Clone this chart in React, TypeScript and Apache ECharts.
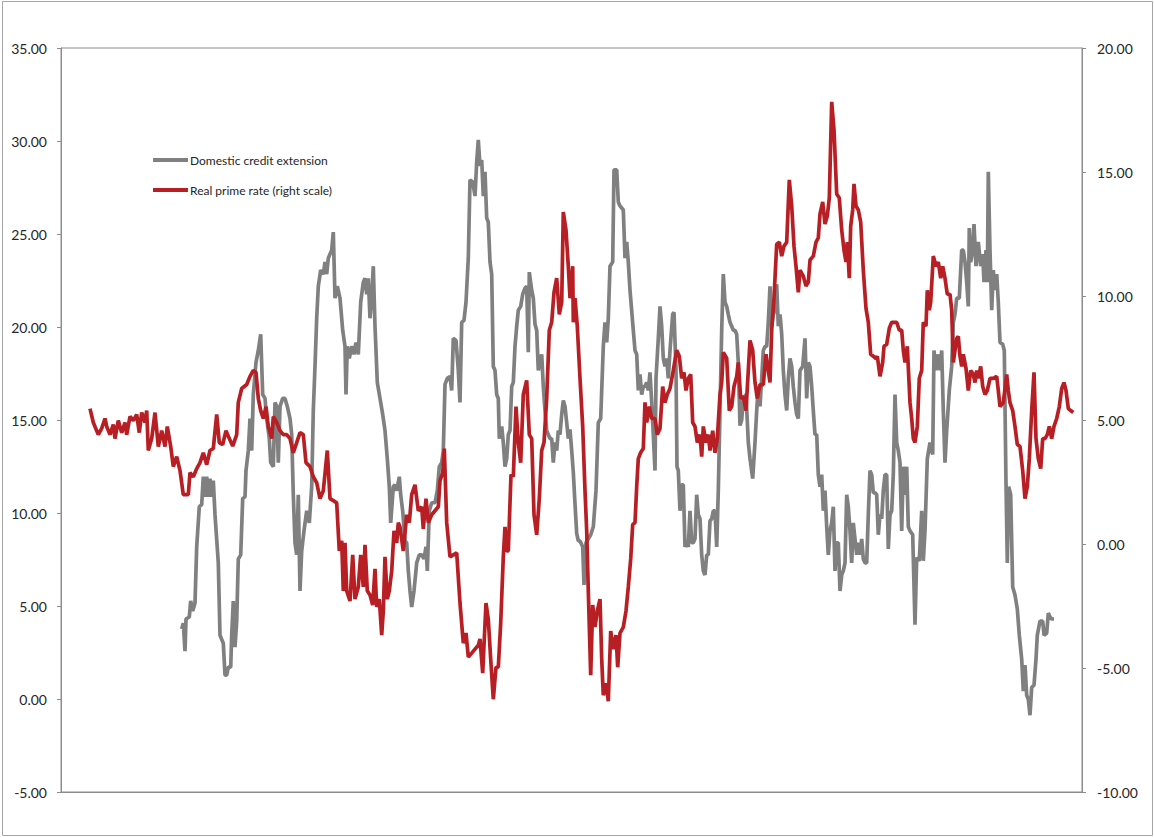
import React, { useEffect, useRef } from "react";
import * as echarts from "echarts";

// x values are decimal years (monthly-ish observations)
const creditExtension: [number, number][] = [
  [1968.035,3.76],[1968.115,4.08],[1968.2,2.57],[1968.25,4.30],[1968.415,4.41],[1968.485,5.27],[1968.585,4.73],[1968.7,5.16],[1968.785,8.18],[1968.915,10.34],
  [1969.035,10.45],[1969.115,11.95],[1969.2,10.87],[1969.285,11.95],[1969.365,10.87],[1969.45,11.85],[1969.535,10.87],[1969.615,11.74],[1969.7,9.91],[1969.865,7.32],
  [1969.95,3.43],[1970.115,3.0],[1970.2,1.28],[1970.285,1.28],[1970.365,1.71],[1970.485,1.71],[1970.535,3.43],[1970.615,5.27],[1970.7,2.79],[1970.785,4.2],
  [1970.865,7.53],[1970.985,7.75],[1971.085,10.77],[1971.2,10.87],[1971.25,12.28],[1971.365,13.35],[1971.45,15.08],[1971.535,13.35],[1971.615,16.37],[1971.75,18.10],
  [1971.865,18.74],[1971.985,19.61],[1972.085,16.37],[1972.2,16.16],[1972.285,15.08],[1972.415,14.0],[1972.485,12.71],[1972.615,12.49],[1972.7,15.94],[1972.785,15.73],
  [1972.865,12.71],[1972.95,15.73],[1973.085,16.16],[1973.2,16.16],[1973.315,15.73],[1973.45,15.08],[1973.535,14.22],[1973.615,10.98],[1973.7,8.40],[1973.785,7.75],
  [1973.865,10.98],[1973.95,5.81],[1974.035,7.96],[1974.15,9.04],[1974.285,10.12],[1974.415,9.47],[1974.535,11.41],[1974.615,15.51],[1974.7,17.88],[1974.785,20.47],
  [1974.865,22.19],[1974.985,23.06],[1975.115,22.84],[1975.2,23.49],[1975.285,22.84],[1975.365,23.70],[1975.45,23.92],[1975.535,24.13],[1975.615,25.10],[1975.7,21.55],
  [1975.815,22.19],[1975.95,21.55],[1976.085,19.82],[1976.2,18.96],[1976.25,16.37],[1976.315,18.96],[1976.415,18.31],[1976.535,18.96],[1976.65,18.53],[1976.75,19.17],
  [1976.865,18.53],[1976.985,21.33],[1977.115,22.41],[1977.2,22.62],[1977.285,21.76],[1977.365,22.62],[1977.45,20.47],[1977.535,21.55],[1977.615,23.27],[1977.7,20.04],
  [1977.815,17.02],[1977.95,16.16],[1978.085,15.30],[1978.2,14.43],[1978.315,12.92],[1978.415,11.41],[1978.485,9.47],[1978.615,11.41],[1978.7,11.52],[1978.785,11.20],
  [1978.915,11.95],[1978.985,10.98],[1979.085,10.1],[1979.2,8.5],[1979.285,8.40],[1979.365,6.89],[1979.45,5.81],[1979.535,4.95],[1979.65,5.81],[1979.785,7.32],
  [1979.915,7.75],[1980.035,7.75],[1980.15,7.53],[1980.25,8.18],[1980.315,6.89],[1980.415,10.12],[1980.535,10.55],[1980.7,10.55],[1980.815,11.20],[1980.915,12.49],
  [1981.035,12.71],[1981.115,13.35],[1981.2,16.91],[1981.315,17.24],[1981.45,17.34],[1981.535,16.59],[1981.615,19.39],[1981.75,19.28],[1981.865,17.67],[1981.95,15.94],
  [1982.035,20.25],[1982.15,20.36],[1982.25,21.33],[1982.365,23.70],[1982.45,27.91],[1982.585,27.80],[1982.7,27.04],[1982.785,28.88],[1982.865,30.06],[1982.95,28.66],
  [1983.035,28.98],[1983.115,27.04],[1983.2,28.34],[1983.285,25.86],[1983.365,25.64],[1983.45,23.49],[1983.535,22.84],[1983.615,17.88],[1983.7,17.67],[1983.785,16.37],
  [1983.865,16.16],[1983.915,14.0],[1984.035,14.65],[1984.115,13.79],[1984.2,12.49],[1984.285,12.92],[1984.365,14.22],[1984.45,14.43],[1984.535,16.80],[1984.615,17.02],
  [1984.7,18.96],[1984.785,20.04],[1984.865,20.90],[1984.985,21.11],[1985.085,21.76],[1985.2,22.09],[1985.285,22.19],[1985.365,18.64],[1985.415,22.95],[1985.535,21.98],
  [1985.615,21.55],[1985.7,20.15],[1985.785,19.82],[1985.865,17.67],[1985.95,18.10],[1986.035,18.53],[1986.115,16.80],[1986.2,15.51],[1986.285,14.43],[1986.365,14.22],
  [1986.45,14.0],[1986.535,14.0],[1986.615,12.71],[1986.7,13.79],[1986.785,13.35],[1986.865,14.43],[1986.95,14.22],[1987.035,15.30],[1987.115,16.05],[1987.2,15.73],
  [1987.285,14.86],[1987.365,14.0],[1987.45,14.5],[1987.535,13.35],[1987.615,12.2],[1987.7,10.5],[1987.785,8.9],[1987.865,8.50],[1987.95,8.50],[1988.085,8.18],
  [1988.15,6.13],[1988.25,8.40],[1988.365,8.61],[1988.485,8.83],[1988.615,9.26],[1988.75,11.20],[1988.865,14.86],[1988.985,15.08],[1989.115,18.96],[1989.2,20.25],
  [1989.285,19.17],[1989.365,20.47],[1989.45,23.27],[1989.585,23.49],[1989.65,28.45],[1989.785,28.45],[1989.865,26.72],[1989.95,26.51],[1990.115,26.29],[1990.2,23.70],
  [1990.285,24.57],[1990.365,23.49],[1990.45,21.98],[1990.615,19.82],[1990.7,18.74],[1990.785,18.53],[1990.865,16.59],[1990.95,17.45],[1991.035,16.37],[1991.115,16.80],
  [1991.2,16.80],[1991.285,17.02],[1991.365,16.59],[1991.45,17.56],[1991.535,15.94],[1991.615,14.22],[1991.7,12.28],[1991.75,17.24],[1991.865,19.39],[1991.95,21.11],
  [1992.035,20.04],[1992.115,18.31],[1992.2,17.88],[1992.285,18.31],[1992.365,17.24],[1992.45,18.74],[1992.585,20.68],[1992.65,20.79],[1992.75,17.67],[1992.8,12.49],
  [1992.865,12.28],[1992.95,10.12],[1993.035,11.52],[1993.115,11.52],[1993.2,8.18],[1993.285,8.40],[1993.365,8.18],[1993.45,10.12],[1993.535,8.40],[1993.615,8.40],
  [1993.7,8.61],[1993.785,10.98],[1993.865,9.91],[1993.95,9.69],[1994.035,7.75],[1994.115,6.89],[1994.2,6.67],[1994.285,7.75],[1994.365,7.75],[1994.45,9.58],
  [1994.535,9.69],[1994.615,10.12],[1994.7,10.12],[1994.785,8.18],[1994.865,11.20],[1994.95,15.51],[1995.035,19.82],[1995.115,22.84],[1995.2,21.33],[1995.285,21.11],
  [1995.365,20.68],[1995.45,20.25],[1995.535,20.04],[1995.615,19.82],[1995.7,19.82],[1995.785,19.61],[1995.865,18.10],[1995.95,14.7],[1996.035,15.0],[1996.115,16.16],
  [1996.25,16.37],[1996.365,13.79],[1996.45,12.92],[1996.585,11.85],[1996.7,13.79],[1996.785,15.51],[1996.865,16.80],[1996.95,15.73],[1997.035,17.24],[1997.115,18.74],
  [1997.2,18.96],[1997.285,18.96],[1997.365,20.25],[1997.45,22.19],[1997.535,20.04],[1997.615,20.68],[1997.7,20.90],[1997.785,22.30],[1997.865,20.04],[1997.95,20.68],
  [1998.035,19.61],[1998.115,17.67],[1998.2,16.37],[1998.285,15.51],[1998.365,17.24],[1998.45,18.31],[1998.535,17.88],[1998.615,16.80],[1998.7,15.94],[1998.785,15.30],
  [1998.865,15.08],[1998.95,17.67],[1999.085,17.88],[1999.2,19.39],[1999.285,16.16],[1999.365,18.10],[1999.45,17.88],[1999.535,16.80],[1999.615,15.51],[1999.7,14.22],
  [1999.785,14.22],[1999.865,12.06],[1999.95,11.41],[2000.035,12.06],[2000.115,10.12],[2000.2,11.20],[2000.285,9.26],[2000.365,7.75],[2000.45,9.04],[2000.535,9.47],
  [2000.615,10.34],[2000.7,6.89],[2000.785,8.40],[2000.865,8.40],[2000.95,5.81],[2001.035,6.67],[2001.115,6.89],[2001.2,7.32],[2001.285,10.98],[2001.365,10.34],
  [2001.45,9.04],[2001.535,7.32],[2001.615,9.47],[2001.7,8.61],[2001.785,7.75],[2001.865,8.40],[2001.95,7.75],[2002.035,8.61],[2002.115,7.53],[2002.2,7.32],
  [2002.285,7.32],[2002.365,9.91],[2002.45,12.28],[2002.535,12.06],[2002.615,11.09],[2002.7,11.09],[2002.785,10.98],[2002.865,8.83],[2002.95,9.91],[2003.035,9.69],
  [2003.115,11.20],[2003.2,12.06],[2003.285,12.06],[2003.365,8.07],[2003.45,9.91],[2003.535,10.12],[2003.615,12.06],[2003.7,16.37],[2003.785,13.79],[2003.865,13.35],
  [2003.95,12.71],[2004.035,9.04],[2004.115,12.49],[2004.2,10.98],[2004.285,12.49],[2004.365,9.26],[2004.45,9.04],[2004.585,8.83],[2004.7,4.0],[2004.785,7.6],
  [2004.915,7.43],[2005.035,10.12],[2005.115,7.43],[2005.2,9.04],[2005.315,12.92],[2005.45,13.79],[2005.585,13.14],[2005.65,18.74],[2005.75,17.67],[2005.865,18.53],
  [2005.95,17.67],[2006.035,18.74],[2006.115,15.51],[2006.2,12.71],[2006.285,14.43],[2006.415,16.59],[2006.535,17.88],[2006.615,20.25],[2006.7,20.68],[2006.785,21.55],
  [2006.915,21.55],[2007.035,24.13],[2007.115,24.13],[2007.2,23.49],[2007.285,22.41],[2007.365,21.11],[2007.415,25.32],[2007.485,23.49],[2007.585,24.13],[2007.65,25.53],
  [2007.75,23.27],[2007.865,24.57],[2007.985,23.27],[2008.085,23.92],[2008.15,22.41],[2008.25,24.13],[2008.315,22.41],[2008.365,28.34],[2008.45,24.13],[2008.535,20.90],
  [2008.615,23.06],[2008.7,21.98],[2008.785,22.84],[2008.865,21.33],[2008.95,19.17],[2009.085,19.07],[2009.165,18.74],[2009.25,11.63],[2009.315,7.32],[2009.385,11.41],
  [2009.485,10.98],[2009.585,6.02],[2009.7,5.59],[2009.815,4.84],[2009.915,3.43],[2010.035,2.14],[2010.115,0.42],[2010.2,1.82],[2010.285,0.20],[2010.365,-0.01],
  [2010.45,-0.87],[2010.535,0.63],[2010.65,0.74],[2010.75,2.14],[2010.815,3.43],[2010.95,4.19],[2011.085,4.19],[2011.15,3.43],[2011.285,3.54],[2011.365,4.62],
  [2011.45,4.41],[2011.535,4.30],[2011.65,4.30]
];

const realPrimeRate: [number, number][] = [
  [1963.45,5.46],[1963.615,4.90],[1963.865,4.41],[1964.035,4.66],[1964.2,5.06],[1964.285,4.74],[1964.45,4.41],[1964.615,4.82],[1964.7,4.25],[1964.865,4.98],
  [1965.035,4.49],[1965.2,4.90],[1965.285,4.41],[1965.45,5.14],[1965.615,4.98],[1965.785,5.22],[1965.915,4.49],[1966.035,5.30],[1966.2,4.90],[1966.285,5.38],
  [1966.365,3.77],[1966.535,4.25],[1966.7,5.30],[1966.865,3.93],[1967.035,4.57],[1967.2,3.93],[1967.315,4.74],[1967.485,3.93],[1967.615,3.12],[1967.785,3.52],
  [1967.95,2.96],[1968.115,1.99],[1968.365,1.99],[1968.45,2.88],[1968.615,2.71],[1968.785,3.04],[1968.95,3.28],[1969.115,3.68],[1969.285,3.20],[1969.45,3.77],
  [1969.615,3.85],[1969.785,5.22],[1969.915,4.09],[1970.085,4.01],[1970.25,4.57],[1970.415,4.25],[1970.585,3.95],[1970.785,4.41],[1970.865,5.71],[1971.035,6.27],
  [1971.285,6.43],[1971.45,6.76],[1971.615,7.0],[1971.75,6.92],[1971.865,5.87],[1971.985,5.38],[1972.115,5.06],[1972.25,5.54],[1972.365,4.74],[1972.535,4.25],
  [1972.615,5.14],[1972.785,4.90],[1972.95,4.57],[1973.115,4.41],[1973.285,4.41],[1973.45,4.25],[1973.615,3.68],[1973.785,4.09],[1973.95,4.49],[1974.115,4.41],
  [1974.25,3.28],[1974.45,3.12],[1974.615,2.71],[1974.785,2.47],[1974.95,1.83],[1975.115,2.15],[1975.315,3.77],[1975.45,1.83],[1975.615,1.75],[1975.785,1.66],
  [1975.915,-0.28],[1976.035,0.13],[1976.115,-1.89],[1976.2,0.05],[1976.285,-1.89],[1976.45,-2.30],[1976.585,-0.44],[1976.7,-2.22],[1976.865,-1.73],[1976.985,-0.44],
  [1977.115,-1.73],[1977.2,-0.03],[1977.315,-1.89],[1977.45,-2.06],[1977.585,-2.46],[1977.7,-1.0],[1977.785,-2.54],[1977.915,-2.22],[1978.035,-3.67],[1978.115,-2.70],
  [1978.2,-0.52],[1978.315,-2.22],[1978.415,-1.89],[1978.535,-1.09],[1978.65,0.53],[1978.785,0.05],[1978.865,0.86],[1978.95,0.69],[1979.115,-0.28],[1979.285,1.18],
  [1979.415,0.86],[1979.535,1.99],[1979.7,2.39],[1979.865,1.34],[1980.035,1.50],[1980.115,0.61],[1980.25,1.83],[1980.365,0.86],[1980.535,1.18],[1980.7,1.34],
  [1980.865,1.50],[1980.95,2.55],[1981.085,2.88],[1981.165,3.85],[1981.285,0.86],[1981.45,-0.52],[1981.615,-0.44],[1981.785,-0.36],[1981.95,-2.38],[1982.115,-4.0],
  [1982.25,-3.59],[1982.365,-4.56],[1982.535,-4.40],[1982.7,-4.24],[1982.865,-4.08],[1982.95,-3.83],[1983.085,-5.21],[1983.25,-2.38],[1983.365,-3.03],[1983.485,-4.64],
  [1983.615,-6.26],[1983.75,-4.97],[1983.865,-4.97],[1983.985,-3.19],[1984.115,-0.52],[1984.2,0.69],[1984.285,-0.28],[1984.365,-0.28],[1984.5,2.80],[1984.615,2.71],
  [1984.75,5.54],[1984.865,4.09],[1984.985,3.28],[1985.115,6.03],[1985.285,6.60],[1985.415,4.41],[1985.535,4.25],[1985.65,1.18],[1985.785,0.37],[1985.915,1.83],
  [1986.035,3.77],[1986.15,4.09],[1986.285,5.87],[1986.415,8.62],[1986.535,8.94],[1986.65,10.15],[1986.785,10.72],[1986.915,9.26],[1987.035,9.75],[1987.115,13.39],
  [1987.25,12.66],[1987.365,11.20],[1987.45,9.91],[1987.585,11.20],[1987.615,8.94],[1987.7,9.91],[1987.815,8.78],[1987.95,6.68],[1988.085,4.74],[1988.2,2.15],
  [1988.285,0.53],[1988.365,-1.89],[1988.485,-5.29],[1988.585,-2.46],[1988.7,-3.35],[1988.815,-2.70],[1988.95,-2.22],[1989.035,-4.64],[1989.115,-6.10],[1989.25,-5.61],
  [1989.365,-6.34],[1989.485,-3.51],[1989.615,-4.24],[1989.75,-3.67],[1989.835,-4.97],[1989.95,-3.59],[1990.115,-3.35],[1990.25,-2.70],[1990.365,-1.73],[1990.485,-0.60],
  [1990.585,0.78],[1990.7,0.86],[1990.785,2.31],[1990.865,3.44],[1990.985,3.69],[1991.115,3.85],[1991.2,5.71],[1991.285,4.90],[1991.415,5.54],[1991.535,5.06],
  [1991.7,5.06],[1991.815,4.41],[1991.95,4.66],[1992.085,6.35],[1992.2,5.71],[1992.315,6.03],[1992.45,6.27],[1992.615,7.0],[1992.785,7.81],[1992.915,7.57],
  [1993.035,6.68],[1993.15,6.92],[1993.25,6.19],[1993.365,6.68],[1993.485,6.84],[1993.585,4.90],[1993.7,4.74],[1993.815,4.09],[1993.95,4.41],[1994.035,3.52],
  [1994.115,4.74],[1994.25,4.09],[1994.365,4.41],[1994.45,3.77],[1994.585,4.57],[1994.7,3.68],[1994.815,4.25],[1994.95,6.03],[1995.035,6.51],[1995.115,7.73],
  [1995.285,7.49],[1995.415,5.38],[1995.535,5.54],[1995.65,6.35],[1995.785,6.76],[1995.865,7.32],[1995.985,5.87],[1996.115,5.95],[1996.25,5.38],[1996.365,7.0],
  [1996.45,8.21],[1996.585,7.81],[1996.7,6.51],[1996.815,5.87],[1996.95,6.43],[1997.115,6.43],[1997.25,7.65],[1997.365,7.0],[1997.45,6.51],[1997.535,8.62],
  [1997.65,9.91],[1997.785,12.09],[1997.915,12.17],[1998.035,11.61],[1998.15,12.01],[1998.285,12.17],[1998.415,14.68],[1998.535,13.63],[1998.65,12.01],[1998.75,11.20],
  [1998.865,10.15],[1998.95,11.04],[1999.115,10.80],[1999.25,10.40],[1999.365,10.56],[1999.45,11.45],[1999.615,11.61],[1999.75,12.17],[1999.865,12.34],[1999.95,13.31],
  [2000.085,13.79],[2000.2,12.90],[2000.315,13.23],[2000.415,13.95],[2000.535,17.83],[2000.65,16.70],[2000.785,14.11],[2000.915,13.95],[2001.035,12.66],[2001.15,11.85],
  [2001.25,11.37],[2001.315,12.17],[2001.415,10.72],[2001.485,12.82],[2001.585,13.47],[2001.65,14.52],[2001.75,13.63],[2001.865,13.47],[2001.985,12.98],[2002.115,11.04],
  [2002.25,9.50],[2002.365,8.94],[2002.485,7.65],[2002.615,7.57],[2002.75,7.48],[2002.815,7.57],[2002.95,6.76],[2003.085,7.32],[2003.15,7.97],[2003.285,8.05],
  [2003.415,8.70],[2003.535,8.94],[2003.785,8.94],[2003.915,8.62],[2004.035,8.62],[2004.115,7.81],[2004.2,7.32],[2004.315,7.97],[2004.45,5.7],[2004.535,5.06],
  [2004.615,4.25],[2004.7,4.09],[2004.815,4.74],[2004.915,6.68],[2005.035,7.0],[2005.115,8.94],[2005.25,8.78],[2005.315,10.23],[2005.415,9.43],[2005.485,9.75],
  [2005.615,11.61],[2005.75,11.20],[2005.865,11.37],[2005.985,10.72],[2006.085,11.20],[2006.2,10.72],[2006.315,10.07],[2006.45,10.07],[2006.535,9.43],[2006.615,7.32],
  [2006.7,7.81],[2006.785,8.29],[2006.865,8.37],[2006.95,7.57],[2007.035,7.16],[2007.115,7.65],[2007.25,7.08],[2007.365,6.19],[2007.485,7.0],[2007.615,6.84],
  [2007.7,6.51],[2007.785,7.0],[2007.865,6.68],[2007.985,7.16],[2008.085,6.35],[2008.2,6.03],[2008.315,6.19],[2008.45,6.68],[2008.615,6.68],[2008.785,6.76],
  [2008.865,6.19],[2008.95,5.54],[2009.115,5.70],[2009.285,6.84],[2009.365,6.19],[2009.45,5.70],[2009.585,5.38],[2009.7,4.74],[2009.815,4.01],[2009.95,3.93],
  [2010.085,2.96],[2010.2,1.83],[2010.315,2.31],[2010.415,3.44],[2010.535,5.38],[2010.65,6.92],[2010.75,4.25],[2010.865,3.44],[2010.985,3.04],[2011.085,4.25],
  [2011.2,4.25],[2011.315,4.41],[2011.415,4.74],[2011.535,4.25],[2011.65,4.74],[2011.785,5.06],[2011.915,5.54],[2012.035,6.27],[2012.15,6.51],[2012.25,6.19],
  [2012.365,5.46],[2012.485,5.38],[2012.615,5.30]
];

const seriesNames = ["Domestic credit extension", "Real prime rate (right scale)"];
const leftAxisRange = { min: -5, max: 35, interval: 5 };
const rightAxisRange = { min: -10, max: 20, interval: 5 };
const yearRange = { min: 1962, max: 2013.05 };

export default function App() {
  const ref = useRef<HTMLDivElement>(null);
  useEffect(() => {
    document.body.style.margin = "0";
    const chart = echarts.init(ref.current!, null, { renderer: "svg" });
    const axisColor = "#8c8c8c";
    const labelStyle = { color: "#262626", fontSize: 14, fontFamily: "Lato, 'Liberation Sans', sans-serif" };
    chart.setOption({
      animation: false,
      backgroundColor: "#ffffff",
      grid: { left: 61, right: 72, top: 48, bottom: 46, show: true, borderColor: axisColor, borderWidth: 1, backgroundColor: "transparent" },
      legend: {
        data: seriesNames,
        orient: "vertical",
        left: 153,
        top: 154,
        padding: 0,
        itemGap: 18,
        itemWidth: 35,
        itemHeight: 4,
        icon: "rect",
        textStyle: { color: "#262626", fontSize: 12, fontFamily: "Lato, 'Liberation Sans', sans-serif", padding: [0, 0, 0, -3] },
      },
      xAxis: {
        type: "value",
        min: yearRange.min,
        max: yearRange.max,
        axisLine: { show: true, onZero: false, lineStyle: { color: axisColor } },
        axisTick: { show: false },
        axisLabel: { show: false },
        splitLine: { show: false },
      },
      yAxis: [
        {
          type: "value",
          position: "left",
          ...leftAxisRange,
          axisLine: { show: true, lineStyle: { color: axisColor } },
          axisTick: { show: true, length: 4, lineStyle: { color: axisColor } },
          axisLabel: { ...labelStyle, margin: 14, formatter: (v: number) => v.toFixed(2) },
          splitLine: { show: false },
        },
        {
          type: "value",
          position: "right",
          ...rightAxisRange,
          axisLine: { show: true, lineStyle: { color: axisColor } },
          axisTick: { show: true, length: 4, lineStyle: { color: axisColor } },
          axisLabel: { ...labelStyle, margin: 15, formatter: (v: number) => v.toFixed(2) },
          splitLine: { show: false },
        },
      ],
      series: [
        {
          name: seriesNames[0],
          type: "line",
          yAxisIndex: 0,
          data: creditExtension,
          showSymbol: false,
          symbol: "none",
          lineStyle: { color: "#808080", width: 3.7 },
          itemStyle: { color: "#808080" },
        },
        {
          name: seriesNames[1],
          type: "line",
          yAxisIndex: 1,
          data: realPrimeRate,
          showSymbol: false,
          symbol: "none",
          lineStyle: { color: "#B81F25", width: 3.7 },
          itemStyle: { color: "#B81F25" },
        },
      ],
      graphic: [
        {
          type: "rect",
          silent: true,
          z: -10,
          shape: { x: 2.5, y: 1.5, width: 1150, height: 834 },
          style: { fill: "none", stroke: "#a6a6a6", lineWidth: 1 },
        },
      ],
    });
    return () => chart.dispose();
  }, []);
  return <div ref={ref} style={{ width: 1154, height: 838 }} />;
}
